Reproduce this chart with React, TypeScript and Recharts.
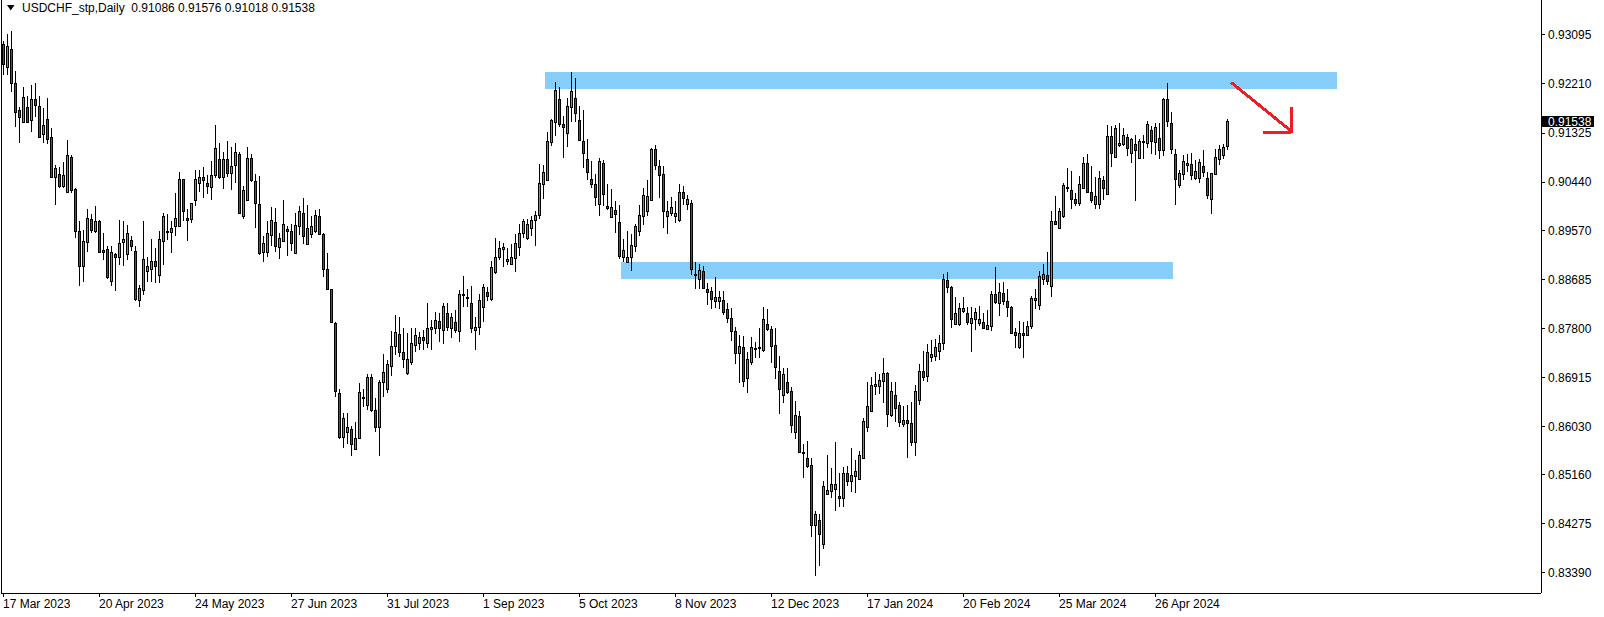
import React from "react";
import {
  ComposedChart,
  Bar,
  XAxis,
  YAxis,
  ReferenceArea,
  ReferenceLine,
} from "recharts";

const SYMBOL = "USDCHF_stp,Daily";
const FONT = "'Liberation Sans', Arial, sans-serif";

const BULL = "#1ed21e";
const BEAR = "#e01414";
const ZONE = "#87cefa";
const ARROW = "#ee1c24";

// bar slots on the x axis: the candles plus the empty right shift
const SLOTS = 385;

const OPEN = [
  0.9293, 0.9251, 0.9284, 0.9222, 0.9174, 0.9152, 0.9179, 0.9156, 0.9193, 0.9181,
  0.9130, 0.9157, 0.9125, 0.9054, 0.9058, 0.9037, 0.9026, 0.9090, 0.9032, 0.8955,
  0.8893, 0.8936, 0.8977, 0.8956, 0.8974, 0.8922, 0.8923, 0.8866, 0.8914, 0.8908,
  0.8936, 0.8914, 0.8940, 0.8920, 0.8831, 0.8849, 0.8884, 0.8887, 0.8902, 0.8877,
  0.8938, 0.8954, 0.8954, 0.8964, 0.8965, 0.9049, 0.8980, 0.8977, 0.9011, 0.9043,
  0.9053, 0.9042, 0.9036, 0.9056, 0.9085, 0.9054, 0.9085, 0.9060, 0.9075, 0.9095,
  0.8982, 0.9011, 0.9087, 0.9046, 0.9004, 0.8917, 0.8918, 0.8949, 0.8972, 0.8926,
  0.8938, 0.8959, 0.8956, 0.8916, 0.8965, 0.8988, 0.8932, 0.8950, 0.8955, 0.8982,
  0.8950, 0.8887, 0.8851, 0.8789, 0.8663, 0.8584, 0.8594, 0.8599, 0.8562, 0.8582,
  0.8655, 0.8641, 0.8693, 0.8633, 0.8603, 0.8684, 0.8670, 0.8713, 0.8749, 0.8770,
  0.8738, 0.8700, 0.8719, 0.8751, 0.8753, 0.8764, 0.8753, 0.8779, 0.8780, 0.8794,
  0.8778, 0.8807, 0.8781, 0.8791, 0.8776, 0.8841, 0.8837, 0.8825, 0.8778, 0.8782,
  0.8819, 0.8845, 0.8833, 0.8881, 0.8908, 0.8924, 0.8902, 0.8896, 0.8907, 0.8926,
  0.8953, 0.8944, 0.8962, 0.8976, 0.8984, 0.9040, 0.9047, 0.9117, 0.9153, 0.9193,
  0.9149, 0.9133, 0.9179, 0.9195, 0.9156, 0.9119, 0.9086, 0.9050, 0.9041, 0.9004,
  0.9079, 0.9000, 0.8981, 0.8994, 0.8972, 0.8909, 0.8900, 0.8908, 0.8928, 0.8956,
  0.8983, 0.8991, 0.9011, 0.9104, 0.9073, 0.9058, 0.8982, 0.8989, 0.8983, 0.8976,
  0.9026, 0.9004, 0.9006, 0.8878, 0.8870, 0.8884, 0.8852, 0.8847, 0.8830, 0.8830,
  0.8831, 0.8815, 0.8798, 0.8776, 0.8735, 0.8746, 0.8691, 0.8720, 0.8743, 0.8744,
  0.8741, 0.8788, 0.8779, 0.8750, 0.8703, 0.8659, 0.8683, 0.8667, 0.8594, 0.8622,
  0.8557, 0.8546, 0.8534, 0.8426, 0.8434, 0.8391, 0.8481, 0.8486, 0.8490, 0.8478,
  0.8474, 0.8519, 0.8504, 0.8514, 0.8508, 0.8547, 0.8603, 0.8631, 0.8677, 0.8677,
  0.8686, 0.8699, 0.8624, 0.8660, 0.8642, 0.8607, 0.8615, 0.8610, 0.8575, 0.8650,
  0.8703, 0.8695, 0.8729, 0.8731, 0.8740, 0.8753, 0.8867, 0.8855, 0.8788, 0.8788,
  0.8812, 0.8807, 0.8790, 0.8797, 0.8790, 0.8791, 0.8779, 0.8785, 0.8842, 0.8825,
  0.8844, 0.8830, 0.8818, 0.8773, 0.8747, 0.8772, 0.8769, 0.8785, 0.8831, 0.8823,
  0.8870, 0.8876, 0.8857, 0.8974, 0.8962, 0.8982, 0.9034, 0.9030, 0.9014, 0.9007,
  0.9034, 0.9078, 0.9026, 0.9004, 0.9004, 0.9048, 0.9023, 0.9127, 0.9090, 0.9111,
  0.9112, 0.9125, 0.9097, 0.9112, 0.9087, 0.9117, 0.9115, 0.9138, 0.9117, 0.9123,
  0.9101, 0.9193, 0.9150, 0.9094, 0.9038, 0.9058, 0.9074, 0.9077, 0.9052, 0.9051,
  0.9073, 0.9051, 0.9013, 0.9058, 0.9085, 0.9092, 0.91086,
];

const HIGH = [
  0.9299, 0.9311, 0.9317, 0.9244, 0.9179, 0.9216, 0.9199, 0.9220, 0.9222, 0.9199,
  0.9177, 0.9195, 0.9141, 0.9075, 0.9072, 0.9081, 0.9120, 0.9093, 0.9034, 0.8974,
  0.8958, 0.8995, 0.8986, 0.9001, 0.8976, 0.8952, 0.8928, 0.8928, 0.8916, 0.8976,
  0.8974, 0.8967, 0.8946, 0.8928, 0.8858, 0.8973, 0.8909, 0.8941, 0.8925, 0.8956,
  0.8988, 0.8986, 0.8973, 0.9024, 0.9063, 0.9050, 0.8995, 0.9007, 0.9066, 0.9065,
  0.9072, 0.9057, 0.9082, 0.9147, 0.9114, 0.9099, 0.9118, 0.9108, 0.9114, 0.9098,
  0.9037, 0.9108, 0.9095, 0.9059, 0.9055, 0.8947, 0.8973, 0.8999, 0.8997, 0.8952,
  0.9012, 0.8964, 0.8968, 0.8988, 0.9001, 0.9015, 0.9003, 0.8982, 0.8994, 0.8995,
  0.8952, 0.8916, 0.8852, 0.8792, 0.8670, 0.8628, 0.8627, 0.8604, 0.8612, 0.8681,
  0.8670, 0.8698, 0.8698, 0.8654, 0.8687, 0.8734, 0.8723, 0.8776, 0.8804, 0.8801,
  0.8780, 0.8771, 0.8780, 0.8780, 0.8774, 0.8778, 0.8825, 0.8795, 0.8810, 0.8807,
  0.8825, 0.8825, 0.8807, 0.8814, 0.8849, 0.8875, 0.8851, 0.8857, 0.8801, 0.8843,
  0.8861, 0.8855, 0.8902, 0.8943, 0.8938, 0.8934, 0.8925, 0.8932, 0.8951, 0.8968,
  0.8977, 0.8977, 0.8982, 0.8992, 0.9076, 0.9075, 0.9135, 0.9157, 0.9225, 0.9215,
  0.9163, 0.9195, 0.9243, 0.9231, 0.9181, 0.9174, 0.9122, 0.9082, 0.9059, 0.9087,
  0.9084, 0.9041, 0.9031, 0.9009, 0.9002, 0.8941, 0.8956, 0.8951, 0.8969, 0.9003,
  0.9033, 0.9048, 0.9106, 0.9111, 0.9084, 0.9073, 0.9010, 0.9018, 0.9009, 0.9041,
  0.9037, 0.9021, 0.9012, 0.8900, 0.8897, 0.8893, 0.8862, 0.8855, 0.8872, 0.8847,
  0.8847, 0.8825, 0.8816, 0.8782, 0.8768, 0.8766, 0.8737, 0.8765, 0.8756, 0.8780,
  0.8818, 0.8815, 0.8784, 0.8780, 0.8730, 0.8709, 0.8709, 0.8675, 0.8649, 0.8631,
  0.8571, 0.8577, 0.8546, 0.8450, 0.8445, 0.8505, 0.8552, 0.8528, 0.8576, 0.8520,
  0.8530, 0.8532, 0.8564, 0.8543, 0.8559, 0.8618, 0.8684, 0.8693, 0.8701, 0.8698,
  0.8727, 0.8701, 0.8684, 0.8684, 0.8647, 0.8640, 0.8642, 0.8647, 0.8678, 0.8716,
  0.8739, 0.8752, 0.8759, 0.8761, 0.8769, 0.8879, 0.8882, 0.8857, 0.8837, 0.8826,
  0.8837, 0.8819, 0.8818, 0.8816, 0.8820, 0.8807, 0.8813, 0.8847, 0.8890, 0.8862,
  0.8863, 0.8852, 0.8821, 0.8780, 0.8793, 0.8792, 0.8793, 0.8838, 0.8851, 0.8884,
  0.8896, 0.8917, 0.8991, 0.9019, 0.8997, 0.9043, 0.9069, 0.9064, 0.9024, 0.9055,
  0.9090, 0.9095, 0.9073, 0.9053, 0.9064, 0.9055, 0.9147, 0.9145, 0.9147, 0.9150,
  0.9141, 0.9131, 0.9123, 0.9129, 0.9121, 0.9129, 0.9154, 0.9145, 0.9150, 0.9150,
  0.9196, 0.9223, 0.9170, 0.9104, 0.9066, 0.9093, 0.9095, 0.9097, 0.9084, 0.9085,
  0.9101, 0.9063, 0.9061, 0.9104, 0.9111, 0.9113, 0.91576,
];

const LOW = [
  0.9237, 0.9237, 0.9207, 0.9144, 0.9115, 0.9150, 0.9150, 0.9135, 0.9162, 0.9123,
  0.9114, 0.9113, 0.9053, 0.9003, 0.9034, 0.9033, 0.9025, 0.9024, 0.8943, 0.8857,
  0.8864, 0.8918, 0.8952, 0.8952, 0.8916, 0.8904, 0.8870, 0.8856, 0.8848, 0.8894,
  0.8893, 0.8904, 0.8920, 0.8830, 0.8819, 0.8840, 0.8864, 0.8864, 0.8862, 0.8862,
  0.8894, 0.8940, 0.8916, 0.8946, 0.8964, 0.8973, 0.8938, 0.8971, 0.9001, 0.9027,
  0.9015, 0.9023, 0.9012, 0.9051, 0.9050, 0.9032, 0.9053, 0.9030, 0.9042, 0.8986,
  0.8977, 0.9009, 0.9045, 0.8962, 0.8913, 0.8899, 0.8909, 0.8928, 0.8917, 0.8905,
  0.8936, 0.8911, 0.8920, 0.8915, 0.8949, 0.8932, 0.8930, 0.8944, 0.8952, 0.8949,
  0.8873, 0.8849, 0.8790, 0.8656, 0.8580, 0.8564, 0.8571, 0.8550, 0.8561, 0.8580,
  0.8639, 0.8633, 0.8630, 0.8594, 0.8549, 0.8657, 0.8663, 0.8695, 0.8732, 0.8729,
  0.8708, 0.8696, 0.8714, 0.8738, 0.8741, 0.8741, 0.8744, 0.8741, 0.8770, 0.8756,
  0.8752, 0.8776, 0.8762, 0.8771, 0.8756, 0.8819, 0.8818, 0.8772, 0.8741, 0.8768,
  0.8792, 0.8830, 0.8830, 0.8879, 0.8904, 0.8891, 0.8894, 0.8894, 0.8881, 0.8911,
  0.8944, 0.8940, 0.8946, 0.8929, 0.8977, 0.9013, 0.9046, 0.9110, 0.9128, 0.9144,
  0.9088, 0.9108, 0.9153, 0.9153, 0.9118, 0.9070, 0.9047, 0.9033, 0.9000, 0.8983,
  0.9000, 0.8994, 0.8979, 0.8952, 0.8905, 0.8899, 0.8899, 0.8884, 0.8917, 0.8946,
  0.8967, 0.8983, 0.9009, 0.9066, 0.9016, 0.8962, 0.8950, 0.8982, 0.8971, 0.8972,
  0.9003, 0.8994, 0.8876, 0.8852, 0.8852, 0.8851, 0.8822, 0.8815, 0.8816, 0.8815,
  0.8804, 0.8790, 0.8758, 0.8716, 0.8682, 0.8675, 0.8664, 0.8714, 0.8726, 0.8726,
  0.8738, 0.8776, 0.8718, 0.8688, 0.8626, 0.8646, 0.8661, 0.8591, 0.8580, 0.8555,
  0.8511, 0.8528, 0.8404, 0.8333, 0.8351, 0.8382, 0.8480, 0.8474, 0.8451, 0.8457,
  0.8457, 0.8496, 0.8485, 0.8484, 0.8507, 0.8546, 0.8594, 0.8630, 0.8660, 0.8662,
  0.8646, 0.8603, 0.8621, 0.8611, 0.8603, 0.8602, 0.8547, 0.8567, 0.8549, 0.8641,
  0.8685, 0.8684, 0.8720, 0.8722, 0.8723, 0.8741, 0.8844, 0.8781, 0.8786, 0.8784,
  0.8807, 0.8786, 0.8738, 0.8778, 0.8784, 0.8780, 0.8778, 0.8776, 0.8824, 0.8803,
  0.8822, 0.8801, 0.8770, 0.8744, 0.8743, 0.8726, 0.8766, 0.8779, 0.8815, 0.8813,
  0.8858, 0.8858, 0.8837, 0.8967, 0.8961, 0.8980, 0.9027, 0.8995, 0.9000, 0.9000,
  0.9033, 0.9025, 0.9007, 0.8995, 0.8995, 0.9012, 0.9021, 0.9071, 0.9088, 0.9108,
  0.9109, 0.9091, 0.9079, 0.9009, 0.9086, 0.9085, 0.9106, 0.9094, 0.9093, 0.9086,
  0.9091, 0.9144, 0.9094, 0.9003, 0.9033, 0.9048, 0.9063, 0.9048, 0.9048, 0.9043,
  0.9053, 0.9013, 0.8986, 0.9057, 0.9075, 0.9085, 0.91018,
];

const CLOSE = [
  0.9257, 0.9290, 0.9222, 0.9171, 0.9162, 0.9197, 0.9153, 0.9193, 0.9183, 0.9125,
  0.9147, 0.9121, 0.9054, 0.9069, 0.9037, 0.9057, 0.9093, 0.9030, 0.8955, 0.8893,
  0.8938, 0.8980, 0.8958, 0.8974, 0.8917, 0.8918, 0.8873, 0.8917, 0.8908, 0.8934,
  0.8941, 0.8952, 0.8928, 0.8833, 0.8853, 0.8905, 0.8892, 0.8902, 0.8893, 0.8941,
  0.8983, 0.8955, 0.8961, 0.8980, 0.9049, 0.8991, 0.8976, 0.9006, 0.9049, 0.9054,
  0.9047, 0.9037, 0.9056, 0.9105, 0.9053, 0.9085, 0.9060, 0.9073, 0.9099, 0.8988,
  0.9030, 0.9087, 0.9048, 0.9007, 0.8916, 0.8935, 0.8953, 0.8976, 0.8928, 0.8944,
  0.8968, 0.8955, 0.8934, 0.8967, 0.8992, 0.8947, 0.8961, 0.8965, 0.8985, 0.8950,
  0.8888, 0.8851, 0.8791, 0.8668, 0.8585, 0.8618, 0.8602, 0.8571, 0.8582, 0.8665,
  0.8656, 0.8693, 0.8632, 0.8603, 0.8684, 0.8701, 0.8715, 0.8748, 0.8773, 0.8738,
  0.8724, 0.8724, 0.8753, 0.8769, 0.8764, 0.8760, 0.8780, 0.8783, 0.8796, 0.8780,
  0.8821, 0.8782, 0.8801, 0.8777, 0.8842, 0.8842, 0.8834, 0.8780, 0.8782, 0.8831,
  0.8855, 0.8839, 0.8891, 0.8908, 0.8925, 0.8926, 0.8906, 0.8909, 0.8934, 0.8953,
  0.8974, 0.8968, 0.8976, 0.8984, 0.9042, 0.9063, 0.9118, 0.9156, 0.9211, 0.9148,
  0.9144, 0.9181, 0.9208, 0.9169, 0.9120, 0.9096, 0.9063, 0.9040, 0.9018, 0.9082,
  0.9022, 0.8997, 0.8999, 0.8986, 0.8911, 0.8922, 0.8908, 0.8930, 0.8965, 0.8985,
  0.9021, 0.9019, 0.9104, 0.9074, 0.9056, 0.8991, 0.8992, 0.8999, 0.8989, 0.9026,
  0.9015, 0.9013, 0.8888, 0.8876, 0.8885, 0.8853, 0.8846, 0.8833, 0.8836, 0.8836,
  0.8810, 0.8799, 0.8776, 0.8735, 0.8748, 0.8686, 0.8725, 0.8746, 0.8744, 0.8746,
  0.8797, 0.8779, 0.8749, 0.8711, 0.8671, 0.8697, 0.8665, 0.8605, 0.8624, 0.8557,
  0.8555, 0.8532, 0.8426, 0.8445, 0.8410, 0.8496, 0.8489, 0.8499, 0.8499, 0.8474,
  0.8519, 0.8504, 0.8516, 0.8523, 0.8552, 0.8613, 0.8640, 0.8678, 0.8679, 0.8687,
  0.8699, 0.8625, 0.8667, 0.8636, 0.8611, 0.8615, 0.8610, 0.8575, 0.8667, 0.8703,
  0.8693, 0.8737, 0.8733, 0.8747, 0.8753, 0.8869, 0.8855, 0.8797, 0.8807, 0.8816,
  0.8816, 0.8792, 0.8798, 0.8809, 0.8797, 0.8781, 0.8786, 0.8842, 0.8827, 0.8846,
  0.8830, 0.8818, 0.8772, 0.8769, 0.8772, 0.8769, 0.8785, 0.8834, 0.8834, 0.8875,
  0.8878, 0.8866, 0.8974, 0.8968, 0.8991, 0.9039, 0.9036, 0.9013, 0.9006, 0.9041,
  0.9078, 0.9026, 0.9011, 0.9019, 0.9051, 0.9033, 0.9127, 0.9097, 0.9141, 0.9114,
  0.9129, 0.9105, 0.9121, 0.9101, 0.9118, 0.9119, 0.9149, 0.9119, 0.9143, 0.9101,
  0.9193, 0.9155, 0.9103, 0.9049, 0.9060, 0.9082, 0.9078, 0.9056, 0.9064, 0.9080,
  0.9062, 0.9020, 0.9060, 0.9090, 0.9104, 0.9107, 0.91538,
];

// MT4 prints a date every 24 bars
const DATE_TICK_BARS = [0, 24, 48, 72, 96, 120, 144, 168, 192, 216, 240, 264, 288];
const DATE_TICK_TEXT = [
  "17 Mar 2023", "20 Apr 2023", "24 May 2023", "27 Jun 2023", "31 Jul 2023",
  "1 Sep 2023", "5 Oct 2023", "8 Nov 2023", "12 Dec 2023", "17 Jan 2024",
  "20 Feb 2024", "25 Mar 2024", "26 Apr 2024",
];

const PRICE_TICKS = [
  0.93095, 0.9221, 0.91325, 0.9044, 0.8957, 0.88685,
  0.878, 0.86915, 0.8603, 0.8516, 0.84275, 0.8339,
];
const PRICE_DOMAIN = [0.83027, 0.93725];

// drawn zones: [first bar, last bar] and [bottom, top] price
const RESIST_BARS = [136, 333];
const RESIST_PRICE = [0.92125, 0.92426];
const SUPPORT_BARS = [155, 292];
const SUPPORT_PRICE = [0.88698, 0.88999];

// hand drawn arrow
const ARROW_SHAFT = [
  { x: 307, y: 0.9224 },
  { x: 322, y: 0.91362 },
];
const ARROW_UPRIGHT = [
  { x: 322, y: 0.91789 },
  { x: 322, y: 0.91331 },
];
const ARROW_BASE = [
  { x: 315, y: 0.91331 },
  { x: 322, y: 0.91331 },
];

const last = OPEN.length - 1;

const rows = Array.from({ length: SLOTS }, (_, i) =>
  i <= last
    ? { i, o: OPEN[i], h: HIGH[i], l: LOW[i], c: CLOSE[i], range: [LOW[i], HIGH[i]] }
    : { i }
);

function Candle(props: any) {
  const { x, y, width, height, payload } = props;
  if (!payload || payload.o == null || !isFinite(y) || !isFinite(height)) return <g />;
  const { o, h, l, c } = payload;
  const top = Math.min(y, y + height);
  const span = Math.abs(height);
  const k = h > l ? span / (h - l) : 0;
  const py = (v: number) => top + (h - v) * k;
  const cx = x + width / 2;
  const left = Math.round(cx - 1.5);
  const wx = left + 1.5;
  const b1 = Math.round(py(Math.max(o, c)));
  const b2 = Math.round(py(Math.min(o, c)));
  const fill = c > o ? BULL : BEAR;
  return (
    <g>
      <line x1={wx} x2={wx} y1={Math.round(top)} y2={Math.round(top + span)} stroke="#000" />
      {b2 - b1 < 1 ? (
        <rect x={left} y={b1} width={3} height={1} fill="#000" />
      ) : (
        <>
          <rect x={left} y={b1} width={3} height={b2 - b1 + 1} fill="#000" />
          {b2 - b1 >= 2 && (
            <rect x={left + 1} y={b1 + 1} width={1} height={b2 - b1 - 1} fill={fill} />
          )}
        </>
      )}
    </g>
  );
}

function DateTick({ x, y, payload }: any) {
  const k = DATE_TICK_BARS.indexOf(payload.value);
  if (k < 0) return <g />;
  return (
    <g>
      <line x1={x + 0.5} x2={x + 0.5} y1={y} y2={y + 4} stroke="#000" />
      <text x={x} y={y + 15} fontSize={12} fontFamily={FONT} fill="#000">
        {DATE_TICK_TEXT[k]}
      </text>
    </g>
  );
}

function PriceTag({ viewBox }: any) {
  if (!viewBox) return null;
  const left = viewBox.x + viewBox.width + 1;
  return (
    <g>
      <rect x={left} y={viewBox.y - 5.5} width={52} height={11} fill="#000" />
      <text x={left + 6} y={viewBox.y + 4.3} fontSize={12} fontFamily={FONT} fill="#fff">
        {CLOSE[last].toFixed(5)}
      </text>
    </g>
  );
}

export default function App() {
  const header = [OPEN[last], HIGH[last], LOW[last], CLOSE[last]]
    .map((v) => v.toFixed(5))
    .join(" ");

  return (
    <div style={{ position: "relative", width: 1604, height: 617, background: "#fff" }}>
      <style>{`body{margin:0} .mt4 line, .mt4 rect, .mt4 path{shape-rendering:crispEdges}`}</style>
      <div className="mt4">
        <ComposedChart
          width={1604}
          height={617}
          data={rows}
          margin={{ top: 0, right: 0, bottom: 0, left: 0 }}
        >
          <XAxis
            dataKey="i"
            type="category"
            height={24}
            interval={0}
            tickLine={false}
            tickSize={0}
            tickMargin={0}
            axisLine={{ stroke: "#000" }}
            tick={<DateTick />}
          />
          <YAxis
            yAxisId="edge"
            orientation="left"
            width={1}
            tick={false}
            tickLine={false}
            axisLine={{ stroke: "#000" }}
          />
          <YAxis
            yAxisId="p"
            orientation="right"
            type="number"
            width={63}
            domain={PRICE_DOMAIN}
            allowDataOverflow
            ticks={PRICE_TICKS}
            interval={0}
            tickSize={4}
            tickMargin={3}
            tickLine={{ stroke: "#000" }}
            axisLine={{ stroke: "#000" }}
            tick={{ fontSize: 12, fontFamily: FONT, fill: "#000" }}
            tickFormatter={(v: number) => v.toFixed(5)}
          />
          <ReferenceArea
            yAxisId="p"
            x1={RESIST_BARS[0]}
            x2={RESIST_BARS[1]}
            y1={RESIST_PRICE[0]}
            y2={RESIST_PRICE[1]}
            fill={ZONE}
            fillOpacity={1}
            stroke="none"
            ifOverflow="visible"
          />
          <ReferenceArea
            yAxisId="p"
            x1={SUPPORT_BARS[0]}
            x2={SUPPORT_BARS[1]}
            y1={SUPPORT_PRICE[0]}
            y2={SUPPORT_PRICE[1]}
            fill={ZONE}
            fillOpacity={1}
            stroke="none"
            ifOverflow="visible"
          />
          <Bar
            yAxisId="p"
            dataKey="range"
            barSize={3}
            shape={Candle}
            isAnimationActive={false}
          />
          <ReferenceLine yAxisId="p" segment={ARROW_SHAFT} stroke={ARROW} strokeWidth={3} ifOverflow="visible" />
          <ReferenceLine yAxisId="p" segment={ARROW_UPRIGHT} stroke={ARROW} strokeWidth={3} ifOverflow="visible" />
          <ReferenceLine yAxisId="p" segment={ARROW_BASE} stroke={ARROW} strokeWidth={3} ifOverflow="visible" />
          <ReferenceLine
            yAxisId="p"
            y={CLOSE[last]}
            stroke="none"
            ifOverflow="visible"
            label={<PriceTag />}
          />
        </ComposedChart>
      </div>
      <svg style={{ position: "absolute", left: 7, top: 5 }} width={8} height={6}>
        <path d="M0 0H7.5L3.75 5.5Z" fill="#000" />
      </svg>
      <div
        style={{
          position: "absolute",
          left: 22,
          top: 1,
          fontFamily: FONT,
          fontSize: 12,
          lineHeight: "14px",
          color: "#000",
          whiteSpace: "pre",
        }}
      >
        {`${SYMBOL}  ${header}`}
      </div>
    </div>
  );
}
